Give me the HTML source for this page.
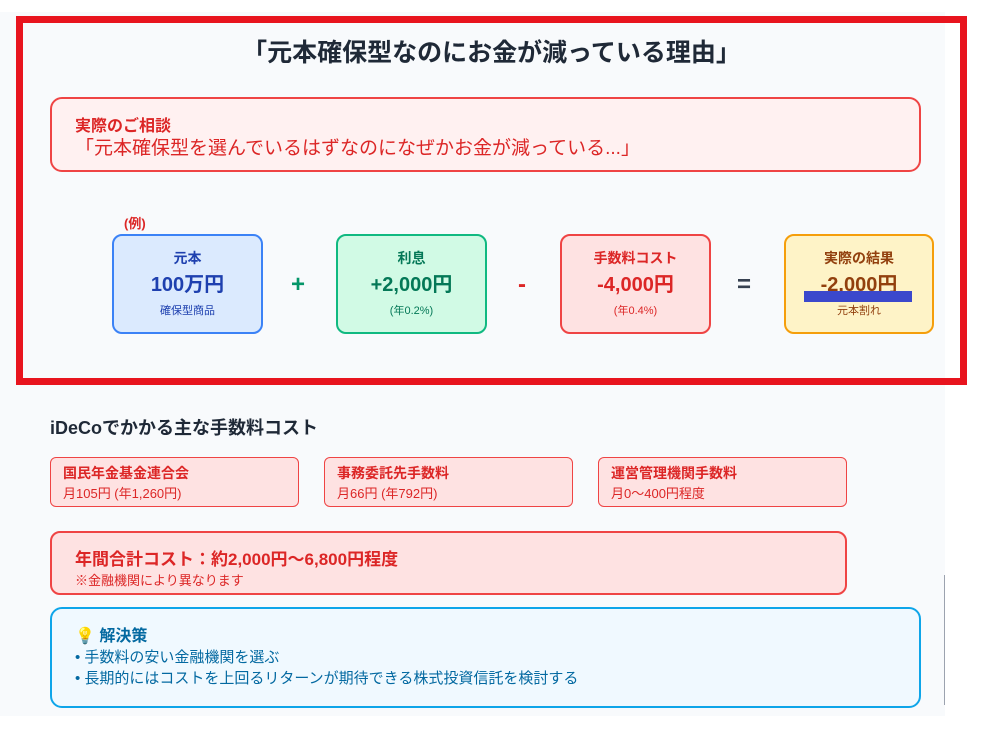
<!DOCTYPE html>
<html><head><meta charset="utf-8"><style>
*{margin:0;padding:0;box-sizing:border-box}
body{width:983px;height:736px;background:#fff;font-family:"Liberation Sans","Noto Sans CJK JP",sans-serif;position:relative;overflow:hidden}
.a{position:absolute}
.bg{left:0;top:12px;width:945px;height:704px;background:#f8fafc}
.frame{left:16px;top:16px;width:951px;height:369px;border:7px solid #e8141e}
.t{white-space:nowrap}
.box{position:absolute;border-radius:10px;border:2.5px solid;text-align:center}
.box .l{position:absolute;left:0;right:0;top:12px;font-size:14px;font-weight:bold}
.box .v{position:absolute;left:0;right:0;top:32px;font-size:20px;font-weight:bold}
.box .s{position:absolute;left:0;right:0;top:66px;font-size:11px}
.op{position:absolute;font-size:24px;font-weight:bold;top:271px}
.fee{position:absolute;top:457px;width:249px;height:50px;background:#fee2e2;border:1.5px solid #ef4444;border-radius:6px;padding:5px 12px}
.fee b{display:block;color:#dc2626;font-size:14px}
.fee span{display:block;color:#dc2626;font-size:13px;margin-top:0}
</style></head><body>
<div class="a bg"></div>
<div class="a frame"></div>
<div class="a t" style="left:0;width:983px;text-align:center;top:33px;font-size:25px;font-weight:bold;color:#1f2937">「元本確保型なのにお金が減っている理由」</div>
<div class="a" style="left:50px;top:97px;width:871px;height:75px;border:2px solid #ef4444;border-radius:12px;background:#fff1f1"></div>
<div class="a t" style="left:75px;top:112px;font-size:16px;font-weight:bold;color:#dc2626">実際のご相談</div>
<div class="a t" style="left:75px;top:133px;font-size:19px;color:#dc2626">「元本確保型を選んでいるはずなのになぜかお金が減っている...」</div>
<div class="a t" style="left:124px;top:213px;font-size:13px;font-weight:bold;color:#dc2626">(例)</div>
<div class="box" style="left:112px;top:234px;width:151px;height:100px;border-color:#3b82f6;background:#dbeafe;color:#1e40af"><div class="l">元本</div><div class="v">100万円</div><div class="s">確保型商品</div></div>
<div class="box" style="left:336px;top:234px;width:151px;height:100px;border-color:#10b981;background:#d1fae5;color:#047857"><div class="l">利息</div><div class="v">+2,000円</div><div class="s">(年0.2%)</div></div>
<div class="box" style="left:560px;top:234px;width:151px;height:100px;border-color:#ef4444;background:#fee2e2;color:#dc2626"><div class="l">手数料コスト</div><div class="v">-4,000円</div><div class="s">(年0.4%)</div></div>
<div class="box" style="left:784px;top:234px;width:150px;height:100px;border-color:#f59e0b;background:#fef3c7;color:#92400e"><div class="l">実際の結果</div><div class="v">-2,000円</div><div class="s">元本割れ</div></div>
<div class="a" style="left:804px;top:291px;width:108px;height:11px;background:#3b48cc"></div>
<div class="op" style="left:291px;color:#059669">+</div>
<div class="op" style="left:518px;color:#dc2626">-</div>
<div class="op" style="left:737px;color:#374151">=</div>
<div class="a t" style="left:50px;top:414px;font-size:18px;font-weight:bold;color:#1f2937">iDeCoでかかる主な手数料コスト</div>
<div class="fee" style="left:50px"><b>国民年金基金連合会</b><span>月105円 (年1,260円)</span></div>
<div class="fee" style="left:324px"><b>事務委託先手数料</b><span>月66円 (年792円)</span></div>
<div class="fee" style="left:598px"><b>運営管理機関手数料</b><span>月0〜400円程度</span></div>
<div class="a" style="left:50px;top:531px;width:797px;height:64px;border:2px solid #ef4444;border-radius:10px;background:#fee2e2"></div>
<div class="a t" style="left:75px;top:545px;font-size:17px;font-weight:bold;color:#dc2626">年間合計コスト：約2,000円〜6,800円程度</div>
<div class="a t" style="left:75px;top:570px;font-size:13px;color:#dc2626">※金融機関により異なります</div>
<div class="a" style="left:50px;top:607px;width:871px;height:101px;border:2px solid #0ea5e9;border-radius:12px;background:#f0f9ff"></div>
<div class="a t" style="left:75px;top:622px;font-size:16px;font-weight:bold;color:#0369a1">💡 解決策</div>
<div class="a t" style="left:75px;top:647px;font-size:15px;color:#0369a1;line-height:21px">• 手数料の安い金融機関を選ぶ<br>• 長期的にはコストを上回るリターンが期待できる株式投資信託を検討する</div>
<div class="a" style="left:944px;top:575px;width:1px;height:130px;background:#9ca3af"></div>
</body></html>
